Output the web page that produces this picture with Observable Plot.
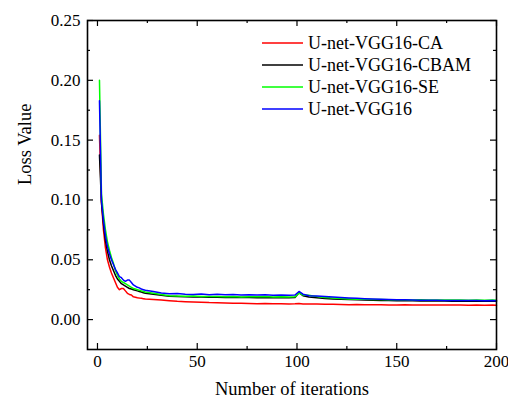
<!DOCTYPE html>
<html><head><meta charset="utf-8">
<script src="https://cdn.jsdelivr.net/npm/d3@7"></script>
<script src="https://cdn.jsdelivr.net/npm/@observablehq/plot@0.6"></script>
<style>
body{margin:0;background:#fff;}
#wrap{position:relative;width:508px;height:400px;font-family:'Liberation Serif',serif;}
#legend{position:absolute;left:262px;top:32px;font-size:18px;color:#000;}
.row{display:flex;align-items:center;height:22px;white-space:nowrap;}
.row svg{margin-right:5px;}
</style></head><body><div id="wrap"><div id="legend"></div></div>
<script>
const iterations = [1,2,3,4,5,6,7,8,9,10,11,12,13,14,15,16,17,18,19,20,21,22,23,24,
  28,32,36,40,44,48,52,56,60,64,68,72,76,80,84,88,92,96,99,101,103,
  106,110,114,118,122,126,130,134,138,142,146,150,154,158,162,166,170,174,178,182,186,190,194,198,200];

const lossCA = [0.154,0.098,0.075,0.060,0.050,0.044,0.039,0.035,0.031,0.027,0.025,0.026,0.026,0.024,0.022,0.021,0.0205,0.019,0.0187,0.0183,0.018,0.0178,0.0175,0.0172,
  0.0168,0.0163,0.0158,0.0153,0.0150,0.0147,0.0145,0.0142,0.0141,0.0139,0.0137,0.0136,0.0134,0.0133,0.0134,0.0132,0.0133,0.0131,0.0132,0.0134,0.0131,
  0.0130,0.0131,0.0129,0.0128,0.0127,0.0125,0.0126,0.0124,0.0124,0.0125,0.0123,0.0123,0.0124,0.0122,0.0123,0.0122,0.0123,0.0121,0.0122,0.0121,0.0120,0.0121,0.0120,0.0121,0.0120];

const lossCBAM = [0.1375,0.098,0.080,0.066,0.057,0.050,0.045,0.041,0.037,0.034,0.032,0.030,0.029,0.028,0.027,0.026,0.0255,0.025,0.0245,0.024,0.0235,0.023,0.0225,0.022,
  0.0212,0.0203,0.0196,0.0192,0.0190,0.0188,0.0189,0.0186,0.0187,0.0185,0.0186,0.0184,0.0185,0.0183,0.0185,0.0183,0.0184,0.0182,0.0184,0.0225,0.0200,
  0.0188,0.0182,0.0177,0.0173,0.0170,0.0167,0.0165,0.0163,0.0162,0.0160,0.0159,0.0158,0.0157,0.0157,0.0156,0.0156,0.0155,0.0155,0.0154,0.0155,0.0154,0.0154,0.0153,0.0154,0.0153];

const lossSE = [0.200,0.105,0.088,0.075,0.065,0.058,0.052,0.047,0.041,0.037,0.034,0.032,0.031,0.030,0.029,0.028,0.027,0.026,0.0255,0.025,0.0245,0.024,0.0235,0.023,
  0.022,0.021,0.0200,0.0198,0.0195,0.0197,0.0193,0.0192,0.0194,0.0190,0.0192,0.0189,0.0191,0.0190,0.0192,0.0189,0.0190,0.0188,0.0190,0.0222,0.0205,
  0.0203,0.0192,0.0185,0.0180,0.0176,0.0173,0.0171,0.0170,0.0168,0.0167,0.0166,0.0166,0.0165,0.0164,0.0165,0.0164,0.0163,0.0164,0.0163,0.0163,0.0162,0.0163,0.0162,0.0163,0.0162];

const lossVGG16 = [0.183,0.100,0.083,0.070,0.061,0.055,0.050,0.046,0.042,0.039,0.036,0.035,0.033,0.032,0.033,0.033,0.031,0.029,0.028,0.027,0.0265,0.0255,0.025,0.0245,
  0.0235,0.0222,0.0215,0.0218,0.0212,0.0210,0.0213,0.0208,0.0211,0.0207,0.0209,0.0206,0.0208,0.0205,0.0207,0.0204,0.0206,0.0203,0.0205,0.0235,0.0212,
  0.0200,0.0197,0.0193,0.0188,0.0184,0.0181,0.0178,0.0175,0.0172,0.0170,0.0168,0.0166,0.0165,0.0163,0.0162,0.0162,0.0161,0.0160,0.0160,0.0159,0.0160,0.0159,0.0158,0.0159,0.0158];

const seriesNames = ["U-net-VGG16-CA","U-net-VGG16-CBAM","U-net-VGG16-SE","U-net-VGG16"];
const seriesValues = [lossCA, lossCBAM, lossSE, lossVGG16];
const seriesColors = ["#ff0000","#000000","#00ff00","#0000ff"];

const xTicks = [0,50,100,150,200];
const xMinorTicks = [25,75,125,175];
const yTicks = [0,0.05,0.10,0.15,0.20,0.25];
const yMinorTicks = [0.025,0.075,0.125,0.175,0.225];
const xLabel = "Number of iterations";
const yLabel = "Loss Value";

const W = 508, H = 400, mL = 87, mR = 12, mT = 20, mB = 51;
const innerW = W - mL - mR, innerH = H - mT - mB;
const FONT = "Liberation Serif";

const rows = [];
seriesNames.forEach((name, i) => {
  iterations.forEach((it, j) => rows.push({series: name, iter: it, loss: seriesValues[i][j]}));
});

const marks = [];
seriesNames.forEach((name, i) => {
  marks.push(Plot.line(rows.filter(r => r.series === name), {x: "iter", y: "loss", stroke: seriesColors[i], strokeWidth: 1.5}));
});
marks.push(
  Plot.tickX(xTicks, {insetTop: innerH - 6, stroke: "#000", strokeWidth: 1.2}),
  Plot.tickX(xMinorTicks, {insetTop: innerH - 3, stroke: "#000", strokeWidth: 1.2}),
  Plot.tickX(xTicks, {insetBottom: innerH - 6, stroke: "#000", strokeWidth: 1.2}),
  Plot.tickX(xMinorTicks, {insetBottom: innerH - 3, stroke: "#000", strokeWidth: 1.2}),
  Plot.tickY(yTicks, {insetRight: innerW - 6, stroke: "#000", strokeWidth: 1.2}),
  Plot.tickY(yMinorTicks, {insetRight: innerW - 3, stroke: "#000", strokeWidth: 1.2}),
  Plot.tickY(yTicks, {insetLeft: innerW - 6, stroke: "#000", strokeWidth: 1.2}),
  Plot.tickY(yMinorTicks, {insetLeft: innerW - 3, stroke: "#000", strokeWidth: 1.2}),
  Plot.axisX({ticks: xTicks, tickSize: 0, tickPadding: 5, tickFormat: d => String(d), label: null, fontSize: 17, fontFamily: FONT}),
  Plot.axisY({ticks: yTicks, tickSize: 0, tickPadding: 7, tickFormat: d3.format(".2f"), label: null, fontSize: 17, fontFamily: FONT}),
  Plot.frame({stroke: "#000", strokeWidth: 1.6}),
  Plot.text([xLabel], {text: d => d, frameAnchor: "bottom", lineAnchor: "middle", dy: 40, fontSize: 18.5, fontFamily: FONT}),
  Plot.text([yLabel], {text: d => d, frameAnchor: "left", lineAnchor: "middle", rotate: -90, dx: -62, fontSize: 18.5, fontFamily: FONT})
);

const chart = Plot.plot({
  width: W, height: H,
  marginLeft: mL, marginRight: mR, marginTop: mT, marginBottom: mB,
  x: {domain: [-5, 200]},
  y: {domain: [-0.025, 0.25]},
  style: "font-family: 'Liberation Serif', serif; background: #fff; color: #000;",
  marks
});
document.getElementById("wrap").prepend(chart);

const legend = document.getElementById("legend");
seriesNames.forEach((name, i) => {
  const row = document.createElement("div");
  row.className = "row";
  row.innerHTML = `<svg width="41" height="4"><line x1="0" x2="41" y1="2" y2="2" stroke="${seriesColors[i]}" stroke-width="1.6"/></svg><span>${name}</span>`;
  legend.appendChild(row);
});
</script></body></html>
